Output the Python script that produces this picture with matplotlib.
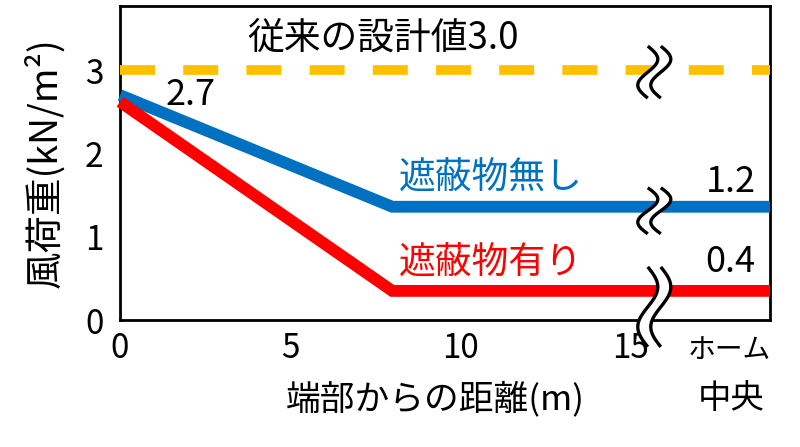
import matplotlib
matplotlib.use("Agg")
import matplotlib.pyplot as plt
import matplotlib.transforms as mtransforms
import numpy as np

plt.rcParams["font.family"] = ["Noto Sans CJK JP", "DejaVu Sans"]

# data
dist_x = [0, 8.0, 19.1]
load_open = [2.70, 1.36, 1.36]      # 遮蔽物無し
load_shield = [2.62, 0.35, 0.35]    # 遮蔽物有り
design_x = [0, 19.1]
design_y = [3.0, 3.0]
break_x = 15.7

xticks = [0, 5, 10, 15]
yticks = [0, 1, 2, 3]

BLUE = "#0070C0"
RED = "#FF0000"
GOLD = "#FFC000"

fig = plt.figure(figsize=(8, 4.47), dpi=100)
ax = fig.add_axes([0.15, 0.284, 0.8125, 0.7026])


def draw_break(y, height, dy=0.0):
    # double wavy break mark, sized in inches around a data point
    s = np.linspace(0, 1, 80)
    amp, gap = 0.10, 0.13
    ys = (0.5 - s) * height + dy
    xl = amp * np.sin(2 * np.pi * s) - gap / 2
    xr = xl + gap
    tr = fig.dpi_scale_trans + mtransforms.ScaledTranslation(break_x, y, ax.transData)
    ax.fill(np.r_[xl, xr[::-1]], np.r_[ys, ys[::-1]], color="white",
            transform=tr, zorder=4, clip_on=False, lw=0)
    for xs in (xl, xr):
        ax.plot(xs, ys, color="black", lw=2.4, transform=tr, zorder=5,
                clip_on=False, solid_capstyle="butt")


ax.plot(design_x, design_y, color=GOLD, lw=7, dashes=(3.6, 2.9), zorder=3)
ax.plot(dist_x, load_open, color=BLUE, lw=8.5, solid_capstyle="butt",
        solid_joinstyle="miter", zorder=3, clip_on=False)
ax.plot(dist_x, load_shield, color=RED, lw=8.5, solid_capstyle="butt",
        solid_joinstyle="miter", zorder=3, clip_on=False)

draw_break(design_y[-1], 0.52, -0.02)
draw_break(load_open[-1], 0.46, -0.04)
draw_break(load_shield[-1], 0.80, -0.16)

ax.text(7.74, 3.39, "従来の設計値3.0", fontsize=26.5, ha="center", va="center")
ax.text(2.06, 2.70, "2.7", fontsize=26, ha="center", va="center")
ax.text(8.18, 1.70, "遮蔽物無し", fontsize=26.5, color=BLUE, ha="left", va="center")
ax.text(18.68, 1.66, "1.2", fontsize=26, ha="right", va="center")
ax.text(8.18, 0.68, "遮蔽物有り", fontsize=26.5, color=RED, ha="left", va="center")
ax.text(18.68, 0.70, "0.4", fontsize=26, ha="right", va="center")
ax.text(17.9, -0.36, "ホーム", fontsize=20, ha="center", va="center", clip_on=False)
ax.text(17.95, -0.94, "中央", fontsize=24, ha="center", va="center", clip_on=False)

ax.set_xlim(0, 19.1)
ax.set_ylim(0, 3.77)
ax.set_xticks(xticks)
ax.set_yticks(yticks)
ax.tick_params(length=0, labelsize=24)
ax.tick_params(axis="x", pad=8)
ax.tick_params(axis="y", pad=12)
for sp in ax.spines.values():
    sp.set_linewidth(2)

ax.set_xlabel("端部からの距離(m)", fontsize=25)
ax.xaxis.set_label_coords(0.485, -0.195)
ax.set_ylabel("風荷重(kN/m²)", fontsize=27, labelpad=14)

fig.savefig("out.png", dpi=100)
